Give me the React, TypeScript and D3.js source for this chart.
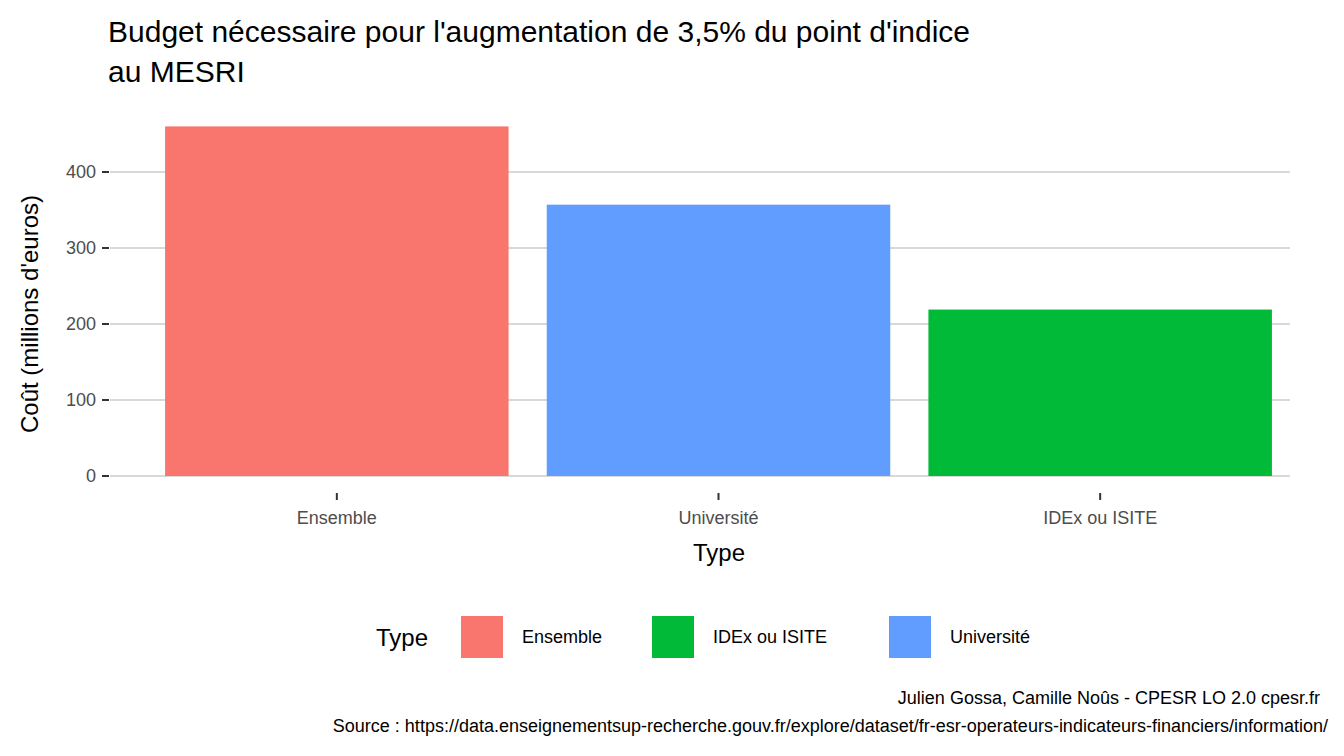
import React from 'react';
import * as d3 from 'd3';

const categories = ['Ensemble', 'Université', 'IDEx ou ISITE'];
const values = [460, 357, 219];
const colors = ['#F8766D', '#619CFF', '#00BA38'];
const yTicks = [0, 100, 200, 300, 400];
const legendItems = ['Ensemble', 'IDEx ou ISITE', 'Université'];
const legendColors = ['#F8766D', '#00BA38', '#619CFF'];

const W = 1344, H = 756;
const font = "'Liberation Sans', Arial, sans-serif";

export default function App() {
  const x = d3.scaleBand<string>().domain(categories).range([146, 1291]).paddingInner(0.1).paddingOuter(0.05);
  const y = d3.scaleLinear().domain([0, 400]).range([476, 172]);
  const legendX = [461, 652, 889];
  return (
    <svg width={W} height={H} style={{ position: 'absolute', left: 0, top: 0, background: '#fff' }} fontFamily={font}>
      <text x={108} y={42} fontSize={30} fill="#000">Budget nécessaire pour l'augmentation de 3,5% du point d'indice</text>
      <text x={108} y={82} fontSize={30} fill="#000">au MESRI</text>
      {yTicks.map(t => (
        <g key={t}>
          <line x1={110} x2={1290} y1={y(t)} y2={y(t)} stroke="#d9d9d9" strokeWidth={2} />
          <line x1={102} x2={109} y1={y(t)} y2={y(t)} stroke="#333" strokeWidth={2} />
          <text x={96} y={y(t)} dy="0.35em" textAnchor="end" fontSize={18} fill="#4d4d4d">{t}</text>
        </g>
      ))}
      {categories.map((c, i) => (
        <g key={c}>
          <rect x={x(c)} y={y(values[i])} width={x.bandwidth()} height={y(0) - y(values[i])} fill={colors[i]} />
          <line x1={x(c)! + x.bandwidth() / 2} x2={x(c)! + x.bandwidth() / 2} y1={493} y2={500} stroke="#333" strokeWidth={2} />
          <text x={x(c)! + x.bandwidth() / 2} y={524} textAnchor="middle" fontSize={18} fill="#4d4d4d">{c}</text>
        </g>
      ))}
      <text x={719} y={561} textAnchor="middle" fontSize={24}>Type</text>
      <text transform={`translate(38,${y(200) - 10}) rotate(-90)`} textAnchor="middle" fontSize={24}>Coût (millions d'euros)</text>
      <text x={376} y={646} fontSize={24}>Type</text>
      {legendItems.map((l, i) => (
        <g key={l}>
          <rect x={legendX[i]} y={616} width={42} height={42} fill={legendColors[i]} />
          <text x={legendX[i] + 61} y={637} dy="0.35em" fontSize={18}>{l}</text>
        </g>
      ))}
      <text x={1320} y={704} textAnchor="end" fontSize={18}>Julien Gossa, Camille Noûs - CPESR LO 2.0 cpesr.fr</text>
      <text x={1328} y={732} textAnchor="end" fontSize={18}>Source : https://data.enseignementsup-recherche.gouv.fr/explore/dataset/fr-esr-operateurs-indicateurs-financiers/information/</text>
    </svg>
  );
}
